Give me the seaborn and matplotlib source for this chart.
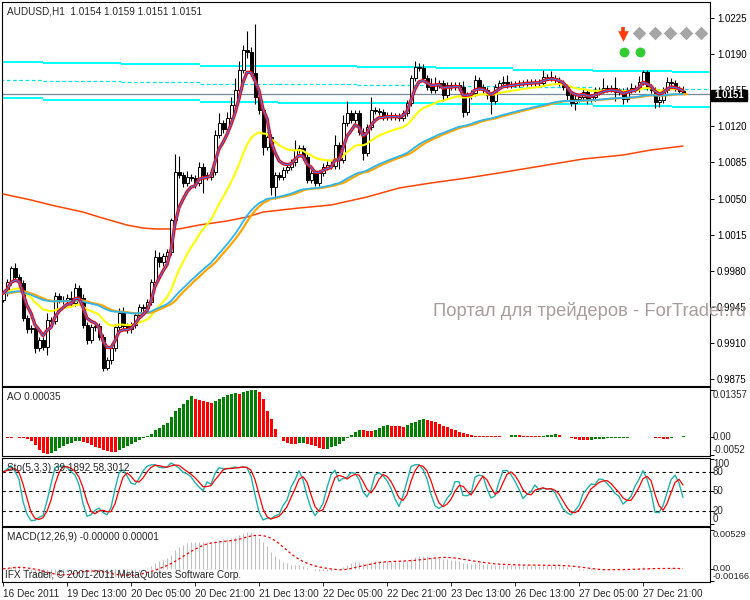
import numpy as np
import pandas as pd
import matplotlib
matplotlib.use("Agg")
import matplotlib.pyplot as plt
import matplotlib.transforms as mtransforms
from matplotlib.patches import Rectangle
import seaborn as sns

# AUDUSD H1, 16-27 Dec 2011
first_open = 0.9952
closes = [
    0.9958, 0.9969, 0.9983, 0.9974, 0.9968, 0.9934, 0.9923, 0.9924, 0.9905, 0.9913,
    0.9906, 0.9932, 0.9931, 0.9955, 0.9952, 0.9951, 0.9954, 0.9949, 0.9963, 0.9954,
    0.9927, 0.9913, 0.9925, 0.9926, 0.9916, 0.9886, 0.9893, 0.9905, 0.9925, 0.9939,
    0.9926, 0.9923, 0.9927, 0.9937, 0.9945, 0.9944, 0.9950, 0.9969, 0.9993, 0.9988,
    0.9994, 0.9998, 1.0029, 1.0076, 1.0073, 1.0065, 1.0071, 1.0070, 1.0065, 1.0081,
    1.0073, 1.0071, 1.0076, 1.0112, 1.0123, 1.0117, 1.0128, 1.0141, 1.0155, 1.0175,
    1.0194, 1.0192, 1.0172, 1.0148, 1.0136, 1.0100, 1.0110, 1.0061, 1.0073, 1.0071,
    1.0078, 1.0081, 1.0085, 1.0097, 1.0099, 1.0090, 1.0068, 1.0075, 1.0065, 1.0075,
    1.0081, 1.0083, 1.0082, 1.0102, 1.0087, 1.0123, 1.0133, 1.0126, 1.0133, 1.0115,
    1.0094, 1.0119, 1.0136, 1.0135, 1.0134, 1.0129, 1.0131, 1.0129, 1.0130, 1.0128,
    1.0133, 1.0143, 1.0167, 1.0178, 1.0177, 1.0167, 1.0158, 1.0155, 1.0160, 1.0162,
    1.0150, 1.0160, 1.0158, 1.0160, 1.0158, 1.0134, 1.0150, 1.0152, 1.0165, 1.0158,
    1.0155, 1.0150, 1.0145, 1.0158, 1.0162, 1.0163, 1.0160, 1.0161, 1.0161, 1.0162,
    1.0162, 1.0163, 1.0162, 1.0163, 1.0162, 1.0168, 1.0168, 1.0167, 1.0165, 1.0162,
    1.0158, 1.0150, 1.0143, 1.0147, 1.0148, 1.0153, 1.0147, 1.0148, 1.0153, 1.0155,
    1.0157, 1.0156, 1.0157, 1.0153, 1.0154, 1.0147, 1.0155, 1.0157, 1.0156, 1.0163,
    1.0173, 1.0158, 1.0155, 1.0144, 1.0146, 1.0155, 1.0163, 1.0162, 1.0157, 1.0154,
    1.0151,
]
# wick lengths in pips above / below the candle body
up_wick = [
    2, 3, 2, 4, 3, 3, 3, 3, 3, 3,
    3, 7, 3, 4, 3, 3, 3, 6, 5, 3,
    3, 3, 3, 3, 3, 3, 3, 3, 3, 5,
    6, 3, 3, 3, 3, 3, 3, 3, 7, 5,
    3, 3, 2, 17, 15, 3, 6, 3, 3, 4,
    3, 3, 3, 4, 10, 3, 6, 7, 12, 8,
    5, 18, 5, 47, 3, 3, 5, 3, 3, 3,
    3, 3, 3, 10, 3, 3, 3, 3, 3, 3,
    3, 3, 3, 10, 3, 8, 12, 3, 3, 3,
    3, 3, 12, 3, 3, 3, 3, 3, 3, 3,
    3, 3, 3, 5, 3, 3, 3, 9, 8, 3,
    3, 3, 3, 3, 3, 6, 3, 3, 5, 3,
    3, 3, 3, 3, 3, 6, 7, 3, 3, 3,
    3, 3, 3, 3, 3, 7, 3, 6, 3, 3,
    3, 3, 3, 3, 3, 3, 3, 3, 5, 3,
    10, 3, 3, 11, 3, 3, 3, 5, 3, 6,
    2, 2, 3, 3, 3, 3, 5, 4, 3, 2,
    5,
]
dn_wick = [
    2, 3, 3, 3, 3, 3, 3, 3, 5, 3,
    3, 8, 3, 3, 3, 3, 3, 3, 3, 3,
    3, 4, 3, 3, 3, 3, 2, 3, 3, 3,
    3, 3, 3, 3, 3, 3, 3, 3, 3, 4,
    3, 3, 3, 3, 3, 4, 3, 3, 5, 3,
    18, 3, 3, 3, 3, 3, 3, 3, 3, 3,
    3, 6, 3, 6, 4, 8, 3, 8, 11, 3,
    3, 3, 3, 3, 3, 3, 3, 3, 3, 3,
    3, 3, 3, 3, 8, 3, 3, 3, 3, 3,
    7, 3, 3, 3, 3, 3, 3, 3, 3, 3,
    3, 3, 3, 3, 3, 3, 3, 3, 3, 3,
    5, 3, 3, 3, 3, 5, 3, 3, 3, 3,
    3, 3, 13, 3, 3, 3, 3, 3, 3, 3,
    3, 3, 3, 3, 3, 3, 3, 3, 3, 3,
    3, 5, 3, 7, 3, 3, 5, 3, 3, 3,
    3, 3, 3, 8, 3, 5, 3, 3, 3, 3,
    3, 3, 3, 6, 5, 3, 3, 3, 3, 3,
    0,
]
ao_values = [
    -0.0001, -0.0002, -0.0002, -0.0001, -0.0003, -0.0004, -0.0006, -0.0013, -0.0024, -0.0037,
    -0.0046, -0.0048, -0.0045, -0.0040, -0.0032, -0.0026, -0.0021, -0.0016, -0.0013, -0.0012,
    -0.0014, -0.0018, -0.0023, -0.0028, -0.0033, -0.0038, -0.0041, -0.0042, -0.0043, -0.0037,
    -0.0031, -0.0026, -0.0021, -0.0015, -0.0008, -0.0002, 0.0004, 0.0010, 0.0019, 0.0026,
    0.0034, 0.0041, 0.0058, 0.0074, 0.0084, 0.0096, 0.0108, 0.0118, 0.0111, 0.0106,
    0.0103, 0.0101, 0.0099, 0.0104, 0.0110, 0.0116, 0.0121, 0.0124, 0.0126, 0.0125,
    0.0130, 0.0133, 0.0135, 0.01357, 0.0130, 0.0109, 0.0076, 0.0051, 0.0022, -0.0001,
    -0.0012, -0.0017, -0.0019, -0.0020, -0.0018, -0.0017, -0.0020, -0.0023, -0.0026, -0.0031,
    -0.0036, -0.0034, -0.0030, -0.0025, -0.0019, -0.0012, -0.0004, 0.0006, 0.0014, 0.0021,
    0.0019, 0.0018, 0.0017, 0.0021, 0.0026, 0.0031, 0.0034, 0.0033, 0.0032, 0.0031,
    0.0030, 0.0034, 0.0039, 0.0044, 0.0049, 0.0051, 0.0049, 0.0047, 0.0043, 0.0038,
    0.0033, 0.0029, 0.0024, 0.0019, 0.0015, 0.0011, 0.0008, 0.0006, 0.0004, 0.0003,
    0.0003, 0.0002, 0.0002, 0.0002, 0.0002, 0.0001, 0.0001, 0.0005, 0.0007, 0.0006,
    0.0004, 0.0003, 0.0003, 0.0003, 0.0003, 0.0004, 0.0006, 0.0007, 0.0008, 0.0005,
    0.0001, 0.0000, -0.0002, -0.0006, -0.0009, -0.0010, -0.0010, -0.0008, -0.0007, -0.0006,
    -0.0005, -0.0003, -0.0002, -0.0002, -0.0002, -0.0002, -0.0002, -0.0001, 0.0000, 0.0001,
    0.0001, 0.0000, -0.0001, -0.0003, -0.0004, -0.0005, -0.0005, -0.0003, -0.0001, 0.0001,
    0.00035,
]
# slow (200) moving average, read at a few bars
ma200_bars = [0, 7, 12, 20, 24, 31, 35, 38, 44, 49, 56, 61, 65, 74, 82, 91, 99, 107, 116, 124, 145, 155, 162, 170]
ma200_vals = [1.00544, 1.00486, 1.00437, 1.00369, 1.00321, 1.00243, 1.00214, 1.00205, 1.00205, 1.00243,
              1.00282, 1.00321, 1.00369, 1.00408, 1.00437, 1.00515, 1.00602, 1.00651, 1.00699, 1.00748,
              1.00883, 1.00922, 1.00971, 1.01009]
# stepped channel levels
level_edges = [-0.75, 10, 29.5, 49.25, 68.75, 88.5, 108.25, 127.5, 147.5, 167.25, 176.75]
level_top = [1.01824, 1.01814, 1.01804, 1.01790, 1.01785, 1.01775, 1.01766, 1.01746, 1.01737, 1.01727]
level_bottom = [1.01475, 1.01460, 1.01451, 1.01441, 1.01431, 1.01426, 1.01421, 1.01412, 1.01397, 1.01388]
bid_price = 1.0151

price_ticks = [0.9875, 0.9910, 0.9945, 0.9980, 1.0015, 1.0050, 1.0085, 1.0120, 1.0155, 1.0190, 1.0225]
tick_bars = [0, 16, 32, 48, 64, 80, 96, 112, 128, 144, 160]
tick_labels = ["16 Dec 2011", "19 Dec 13:00", "20 Dec 05:00", "20 Dec 21:00", "21 Dec 13:00",
               "22 Dec 05:00", "22 Dec 21:00", "23 Dec 13:00", "26 Dec 13:00", "27 Dec 05:00",
               "27 Dec 21:00"]
ao_ticks = [0.01357, 0.0, -0.0052]
ao_tick_labels = ["0.01357", "0.00", "-0.0052"]
sto_ticks = [100, 80, 50, 20, 0]
macd_ticks = [0.00529, 0.0, -0.00166]
macd_tick_labels = ["0.00529", "0.00", "-0.00166"]

sns.set_style("white")
plt.rcParams["font.family"] = ["Liberation Sans", "DejaVu Sans"]

W, H = 750, 600
fig = plt.figure(figsize=(W / 100, H / 100), dpi=100)


def panel(top, bottom):
    return fig.add_axes([2 / W, 1 - bottom / H, 708 / W, (bottom - top) / H])


ax_main = panel(2, 386)
ax_ao = panel(387, 456)
ax_sto = panel(458, 526)
ax_macd = panel(527, 582)
panels = [ax_main, ax_ao, ax_sto, ax_macd]
for ax in panels:
    ax.set_xlim(-0.25, 176.75)
    ax.set_facecolor("white")
    for s in ax.spines.values():
        s.set_color("black")
        s.set_linewidth(0.8)
    ax.set_xticks([])
    ax.yaxis.tick_right()
    ax.tick_params(axis="y", direction="out", length=3, width=0.7, labelsize=7.0,
                   pad=2, right=True, left=False, colors="black")

bars = np.arange(len(closes))
close = pd.Series(closes, dtype=float)
opens = pd.Series([first_open] + closes[:-1], dtype=float)
body_top = np.maximum(opens, close).to_numpy()
body_bot = np.minimum(opens, close).to_numpy()
highs = body_top + np.array(up_wick) * 0.0001
lows = body_bot - np.array(dn_wick) * 0.0001

# ---- main price panel ----
ax_main.set_ylim(0.98682, 1.02406)
for k in range(len(level_top)):
    x0, x1 = level_edges[k], level_edges[k + 1]
    ax_main.hlines([level_top[k], level_bottom[k]], x0, x1, color="#00ffff", lw=1.4, zorder=2)
    ax_main.hlines((level_top[k] + level_bottom[k]) / 2, x0, x1, color="#00e0f0", lw=0.9,
                   linestyles=(0, (3, 2)), zorder=2)
ax_main.axhline(bid_price, color="#778899", lw=0.9, zorder=2)

sns.lineplot(x=ma200_bars, y=ma200_vals, ax=ax_main, color="#ff4500", lw=1.1, zorder=3)

ax_main.vlines(bars, lows, highs, color="black", lw=0.8, zorder=4)
bull = (close >= opens).to_numpy()
height = body_top - body_bot
ax_main.bar(bars[bull], height[bull], bottom=body_bot[bull], width=0.75,
            color="white", edgecolor="black", lw=0.7, zorder=5)
ax_main.bar(bars[~bull], height[~bull], bottom=body_bot[~bull], width=0.75,
            color="black", edgecolor="black", lw=0.7, zorder=5)

ma_fast = close.ewm(span=5, adjust=False).mean()
ma_mid = close.ewm(span=21, adjust=False).mean()
ma_slow = close.ewm(span=55, adjust=False).mean()
sns.lineplot(x=bars, y=ma_mid, ax=ax_main, color="#ffff00", lw=1.5, zorder=6)
sns.lineplot(x=bars + 1, y=ma_slow, ax=ax_main, color="#ffa500", lw=1.6, zorder=6)
sns.lineplot(x=bars, y=ma_slow, ax=ax_main, color="#2cb5f0", lw=1.3, zorder=6)
sns.lineplot(x=bars, y=ma_fast, ax=ax_main, color="#ff0000", lw=2.4, zorder=7)
sns.lineplot(x=bars, y=ma_fast, ax=ax_main, color="#2a7fff", lw=0.8, zorder=7)

ax_main.set_yticks(price_ticks)
ax_main.set_yticklabels([f"{p:.4f}" for p in price_ticks])
ax_main.set_xlabel("")
ax_main.set_ylabel("")

# ---- Awesome oscillator ----
ao = np.array(ao_values)
ao_colors = []
prev = "#008000"
for i, v in enumerate(ao):
    if i > 0 and v > ao[i - 1]:
        prev = "#008000"
    elif i > 0 and v < ao[i - 1]:
        prev = "#ff0000"
    ao_colors.append(prev)
ax_ao.bar(bars, ao, width=0.75, color=ao_colors, lw=0)
ax_ao.set_ylim(-0.00549, 0.01444)

# ---- Stochastic (5,3,3) ----
hi = pd.Series(highs).rolling(5, min_periods=1).max()
lo = pd.Series(lows).rolling(5, min_periods=1).min()
num = (close - lo).rolling(3, min_periods=1).sum()
den = (hi - lo).rolling(3, min_periods=1).sum()
sto_k = 100 * num / den
sto_d = sto_k.rolling(3, min_periods=1).mean()
for lvl in (20, 50, 80):
    ax_sto.axhline(lvl, color="black", lw=0.8, ls=(0, (3, 3)))
sns.lineplot(x=bars, y=sto_k, ax=ax_sto, color="#20b2aa", lw=1.0)
sns.lineplot(x=bars, y=sto_d, ax=ax_sto, color="#ff0000", lw=0.9)
ax_sto.set_ylim(-3.1, 101.5)

# ---- MACD (12,26,9) ----
macd = close.ewm(span=12, adjust=False).mean() - close.ewm(span=26, adjust=False).mean()
signal = macd.rolling(9, min_periods=1).mean()
ax_macd.vlines(bars, 0, macd, color="#c0c0c0", lw=0.8)
sns.lineplot(x=bars, y=signal, ax=ax_macd, color="#ff0000", lw=0.9, ls=(0, (2, 2)))
ax_macd.set_ylim(-0.0018, 0.0057)

for ax in (ax_ao, ax_sto, ax_macd):
    ax.set_xlabel("")
    ax.set_ylabel("")


def side_labels(ax, values, labels, size=7.0):
    ax.set_yticks(values)
    ax.set_yticklabels([])
    tr = mtransforms.blended_transform_factory(ax.transAxes, ax.transData)
    for i, (v, s) in enumerate(zip(values, labels)):
        va = "top" if i == 0 else ("bottom" if i == len(values) - 1 else "center")
        ax.text(1.004, v, s, transform=tr, va=va, ha="left", fontsize=size, clip_on=False)


side_labels(ax_ao, ao_ticks, ao_tick_labels)
side_labels(ax_sto, sto_ticks, [str(t) for t in sto_ticks])
side_labels(ax_macd, macd_ticks, macd_tick_labels, size=6.7)

ax_macd.set_xticks(tick_bars)
ax_macd.set_xticklabels(tick_labels, ha="left")
ax_macd.tick_params(axis="x", direction="out", length=3, width=0.7, labelsize=7.2,
                    pad=2, bottom=True)

# ---- overlay texts and signals (pixel coordinates) ----
ov = fig.add_axes([0, 0, 1, 1])
ov.set_xlim(0, W)
ov.set_ylim(H, 0)
ov.set_axis_off()
ov.patch.set_alpha(0)

ov.text(7, 11, "AUDUSD,H1  1.0154 1.0159 1.0151 1.0151", fontsize=7.2, va="center")
ov.text(7, 397, "AO 0.00035", fontsize=7.2, va="center")
ov.text(7, 468, "Sto(5,3,3) 39.1892 58.3012", fontsize=7.2, va="center")
ov.text(7, 537, "MACD(12,26,9) -0.00000 0.00001", fontsize=7.2, va="center")
ov.text(5, 575, "IFX Trader, \u00a9 2001-2011 MetaQuotes Software Corp.", fontsize=7.2, va="center")
ov.text(433, 311, "Портал для трейдеров - ForTrader.ru", fontsize=13.2, color="#a89c9c", va="center")

ov.add_patch(Rectangle((711, 89.5), 36, 11, color="black"))
ov.text(714, 95, "1.0151", color="white", fontsize=7.0, fontweight="bold", va="center")

# signal panel in the top right corner
ov.plot([623, 623], [27, 33], color="#ff3d0a", lw=2.6, solid_capstyle="butt")
ov.scatter([623], [35.5], marker="v", s=58, color="#ff3d0a", lw=0)
ov.scatter([639, 655, 670, 686, 701], [33] * 5, marker="D", s=48, color="#a6a6a6", lw=0)
ov.scatter([624, 640], [52, 52], marker="o", s=50, color="#33cc33", lw=0)

fig.savefig("out.png", dpi=100)
